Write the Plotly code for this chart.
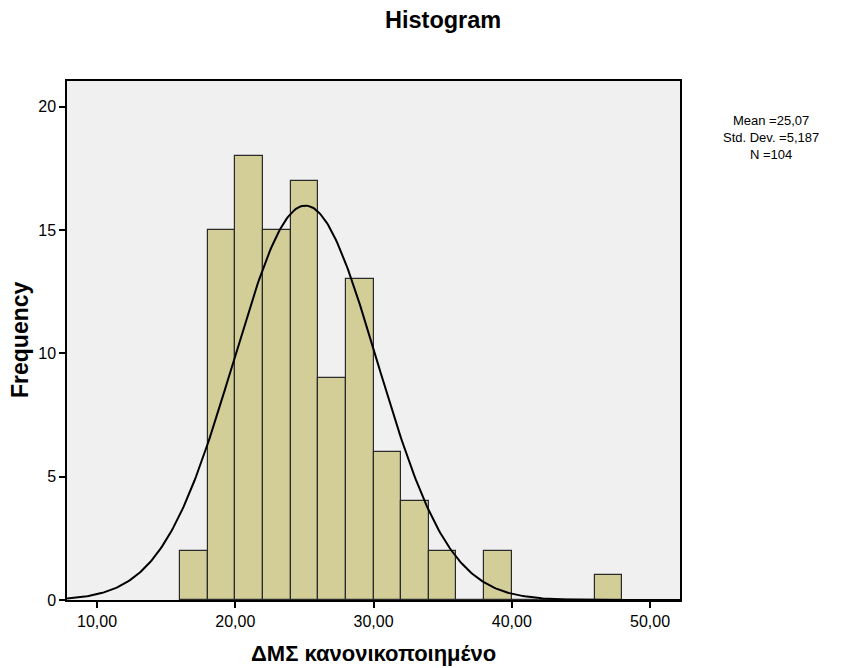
import numpy as np
import plotly.graph_objects as go

# Histogram data (bin width 2)
bin_starts = [16, 18, 20, 22, 24, 26, 28, 30, 32, 34, 36, 38, 40, 42, 44, 46]
counts     = [2, 15, 18, 15, 17, 9, 13, 6, 4, 2, 0, 2, 0, 0, 0, 1]
bin_width = 2
mean_val = 25.07
std_val = 5.187
n_val = 104

x_tickvals = [10, 20, 30, 40, 50]
x_ticktext = ["10,00", "20,00", "30,00", "40,00", "50,00"]
y_tickvals = [0, 5, 10, 15, 20]

x_range = [7.83, 52.17]
y_range = [0, 21.05]

centers = [s + bin_width / 2 for s in bin_starts]

xs = np.linspace(x_range[0], x_range[1], 400)
ys = n_val * bin_width / (std_val * np.sqrt(2 * np.pi)) * np.exp(-0.5 * ((xs - mean_val) / std_val) ** 2)

FONT = "Arial, Liberation Sans, sans-serif"

L, R, T, B = 67, 170, 81, 68
W, H = 850, 668
pw, ph = W - L - R, H - T - B

def px(x):
    return (x - L) / pw

def py(y):
    return (H - B - y) / ph

fig = go.Figure()
fig.add_trace(go.Bar(
    x=centers, y=counts, width=[bin_width] * len(centers),
    marker=dict(color="#D3CE98", line=dict(color="#2a2a2a", width=1.2)),
    hoverinfo="x+y", showlegend=False,
))
fig.add_trace(go.Scatter(
    x=xs, y=ys, mode="lines", line=dict(color="black", width=2),
    showlegend=False, hoverinfo="skip",
))

fig.update_layout(
    width=W, height=H,
    margin=dict(l=L, r=R, t=T, b=B),
    paper_bgcolor="white", plot_bgcolor="#F0F0F0",
    font=dict(family=FONT, color="black"),
    bargap=0,
    xaxis=dict(
        range=x_range, tickvals=x_tickvals, ticktext=x_ticktext,
        ticks="outside", ticklen=6, tickwidth=1.5, tickcolor="black",
        tickfont=dict(size=16, family=FONT), showgrid=False, zeroline=False,
        showline=True, linecolor="black", linewidth=1.5, mirror=True,
    ),
    yaxis=dict(
        range=y_range, tickvals=y_tickvals,
        ticks="outside", ticklen=6, tickwidth=1.5, tickcolor="black",
        tickfont=dict(size=16, family=FONT), showgrid=False, zeroline=False,
        showline=True, linecolor="black", linewidth=1.5, mirror=True,
    ),
    annotations=[
        dict(text="<b>Histogram</b>", x=px(443), y=py(20), xref="paper", yref="paper",
             yanchor="middle", xanchor="center", showarrow=False,
             font=dict(size=23.5, family=FONT)),
        dict(text="<b>ΔΜΣ κανονικοποιημένο</b>", x=px(373), y=py(653), xref="paper", yref="paper",
             yanchor="middle", xanchor="center", showarrow=False,
             font=dict(size=22, family=FONT)),
        dict(text="<b>Frequency</b>", x=px(20), y=py(340), xref="paper", yref="paper",
             yanchor="middle", xanchor="center", showarrow=False, textangle=-90,
             font=dict(size=23, family=FONT)),
        dict(text="Mean =25,07<br>Std. Dev. =5,187<br>N =104", x=px(771), y=py(111),
             xref="paper", yref="paper", xanchor="center", yanchor="top",
             align="center", showarrow=False, font=dict(size=13, family=FONT)),
    ],
)

fig.write_html("out.html")
